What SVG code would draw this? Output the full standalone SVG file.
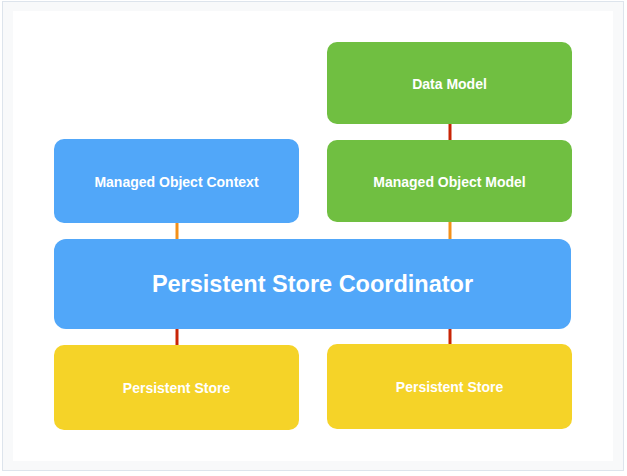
<svg xmlns="http://www.w3.org/2000/svg" width="627" height="476" viewBox="0 0 627 476">
<style>
.t{font-family:"Liberation Sans",Arial,sans-serif;font-weight:bold;fill:#fff;text-anchor:middle;dominant-baseline:central}
.s{font-size:14px}
.b{font-size:23.5px}
.c{stroke-width:3;fill:none}
</style>
<rect x="0" y="0" width="627" height="476" fill="#ffffff"/>
<rect x="2.5" y="1.5" width="621" height="469" fill="#f8f9fa" stroke="#dde4ec"/>
<rect x="13" y="11" width="600" height="450" fill="#ffffff"/>
<g id="connectors">
<line class="c" x1="450" y1="124" x2="450" y2="141" stroke="#c82506"/>
<line class="c" x1="177" y1="223" x2="177" y2="240" stroke="#f39019"/>
<line class="c" x1="450" y1="222" x2="450" y2="240" stroke="#f39019"/>
<line class="c" x1="177" y1="328" x2="177" y2="346" stroke="#c82506"/>
<line class="c" x1="450" y1="328" x2="450" y2="345" stroke="#c82506"/>
</g>
<g id="data-model">
<rect x="327" y="42" width="245" height="82" rx="10" fill="#70bf41"/>
<text class="t s" x="449.5" y="84">Data Model</text>
</g>
<g id="managed-object-model">
<rect x="327" y="140" width="245" height="82" rx="10" fill="#70bf41"/>
<text class="t s" x="449.5" y="182">Managed Object Model</text>
</g>
<g id="managed-object-context">
<rect x="54" y="139" width="245" height="84" rx="10" fill="#51a7f9"/>
<text class="t s" x="176.5" y="182">Managed Object Context</text>
</g>
<g id="coordinator">
<rect x="54" y="239" width="517" height="90" rx="12" fill="#51a7f9"/>
<text class="t b" x="312.5" y="284">Persistent Store Coordinator</text>
</g>
<g id="store-left">
<rect x="54" y="345" width="245" height="85" rx="10" fill="#f5d328"/>
<text class="t s" x="176.5" y="388">Persistent Store</text>
</g>
<g id="store-right">
<rect x="327" y="344" width="245" height="85" rx="10" fill="#f5d328"/>
<text class="t s" x="449.5" y="387">Persistent Store</text>
</g>
</svg>
